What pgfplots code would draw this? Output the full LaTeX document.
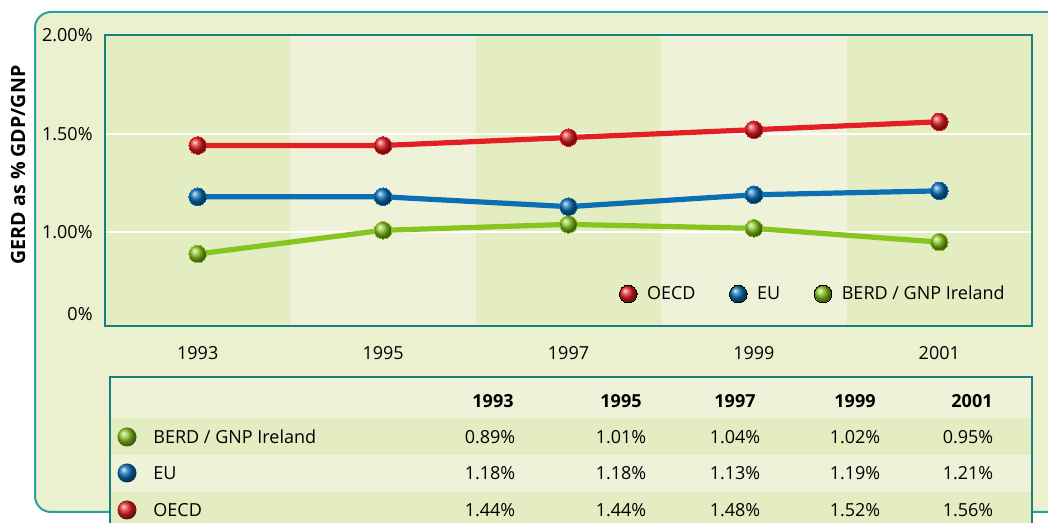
\documentclass[border=0pt]{standalone}
\usepackage{fontspec}
\setmainfont{Open Sans}
\usepackage{pgfplots}
\pgfplotsset{compat=1.18}

\definecolor{framebg}{HTML}{EBF0CE}
\definecolor{frameline}{HTML}{2B9EA3}
\definecolor{bandA}{HTML}{E3EDC1}
\definecolor{bandB}{HTML}{EEF2D9}
\definecolor{axteal}{HTML}{1A7F7F}
\definecolor{ocred}{HTML}{E31E24}
\definecolor{eublue}{HTML}{0B6FB6}
\definecolor{irgreen}{HTML}{86C41E}

\pgfplotsset{
  ballmark/.style={mark=ball, mark size=4.4pt,
    mark options={ball color=#1, draw=none, line width=0pt}},
}

\begin{document}
\fontsize{9}{11}\selectfont
\begin{tikzpicture}[x=0.5pt,y=0.5pt]
\useasboundingbox (0,0) rectangle (1048,523);
\fill[white] (0,0) rectangle (1048,523);
% outer frame
\filldraw[fill=framebg, draw=frameline, line width=1pt, rounded corners=8pt]
  (35,11) rectangle (1075,511);

% y label
\node[rotate=90, font=\fontsize{9.8}{11}\selectfont\bfseries] at (18,358) {GERD as \% GDP/GNP};

% data table
\fill[bandB] (110,146) rectangle (1032,-10);
\fill[bandA] (110,105) rectangle (1032,68);
\fill[bandA] (110,31) rectangle (1032,-10);
\draw[axteal, line width=1pt] (110,-10) -- (110,146) -- (1032,146) -- (1032,-10);
\foreach \yr/\xx in {1993/493,1995/621,1997/735,1999/855,2001/972}
  \node[font=\bfseries] at (\xx,122) {\yr};
\shade[ball color=irgreen] (127,86) circle (9.5);
\shade[ball color=eublue] (127,50) circle (9.5);
\shade[ball color=ocred] (127,13) circle (9.5);
\node[anchor=west] at (147,86) {BERD / GNP Ireland};
\node[anchor=west] at (147,50) {EU};
\node[anchor=west] at (147,13) {OECD};
\foreach \v/\xx in {0.89/490,1.01/621,1.04/735,1.02/855,0.95/968}
  \node at (\xx,86) {\v\%};
\foreach \v/\xx in {1.18/490,1.18/621,1.13/735,1.19/855,1.21/968}
  \node at (\xx,50) {\v\%};
\foreach \v/\xx in {1.44/490,1.44/621,1.48/735,1.52/855,1.56/968}
  \node at (\xx,13) {\v\%};

\coordinate (axsw) at (105,197);
\begin{axis}[
  at={(axsw)}, anchor=south west,
  width=463.5pt, height=145.5pt, scale only axis,
  xmin=1992, xmax=2002, ymin=0.525, ymax=2.0,
  xtick={1993,1995,1997,1999,2001},
  ytick={1,1.5,2}, yticklabels={1.00\%,1.50\%,2.00\%},
  extra y ticks={0.585}, extra y tick labels={0\%},
  major tick length=0pt,
  /pgf/number format/1000 sep={},
  /pgf/number format/assume math mode=true,
  xticklabel style={yshift=-7pt},
  yticklabel style={xshift=-3pt},
  axis line style={axteal, line width=1pt},
  axis on top,
  legend style={draw=none, fill=none, at={(0.548,0.11)}, anchor=west,
    legend columns=-1, font=\fontsize{9}{11}\selectfont,
    /tikz/every odd column/.append style={column sep=3pt},
    /tikz/every even column/.append style={column sep=15pt}},
  legend image code/.code={\draw[#1] plot coordinates {(0pt,0pt)};},
]
\fill[bandA] (axis cs:1992,0.525) rectangle (axis cs:1994,2);
\fill[bandB] (axis cs:1994,0.525) rectangle (axis cs:1996,2);
\fill[bandA] (axis cs:1996,0.525) rectangle (axis cs:1998,2);
\fill[bandB] (axis cs:1998,0.525) rectangle (axis cs:2000,2);
\fill[bandA] (axis cs:2000,0.525) rectangle (axis cs:2002,2);
\draw[white, line width=1pt] (axis cs:1992,1) -- (axis cs:2002,1);
\draw[white, line width=1pt] (axis cs:1992,1.5) -- (axis cs:2002,1.5);

\addplot[irgreen, line width=2.6pt, ballmark=irgreen, forget plot]
  coordinates {(1993,0.89) (1995,1.01) (1997,1.04) (1999,1.02) (2001,0.95)};
\addplot[eublue, line width=2.6pt, ballmark=eublue, forget plot]
  coordinates {(1993,1.18) (1995,1.18) (1997,1.13) (1999,1.19) (2001,1.21)};
\addplot[ocred, line width=2.6pt, ballmark=ocred, forget plot]
  coordinates {(1993,1.44) (1995,1.44) (1997,1.48) (1999,1.52) (2001,1.56)};

\addlegendimage{only marks, ballmark=ocred}
\addlegendentry{OECD}
\addlegendimage{only marks, ballmark=eublue}
\addlegendentry{EU\hspace{5pt}}
\addlegendimage{only marks, ballmark=irgreen}
\addlegendentry{BERD / GNP Ireland}
\end{axis}
\end{tikzpicture}
\end{document}
